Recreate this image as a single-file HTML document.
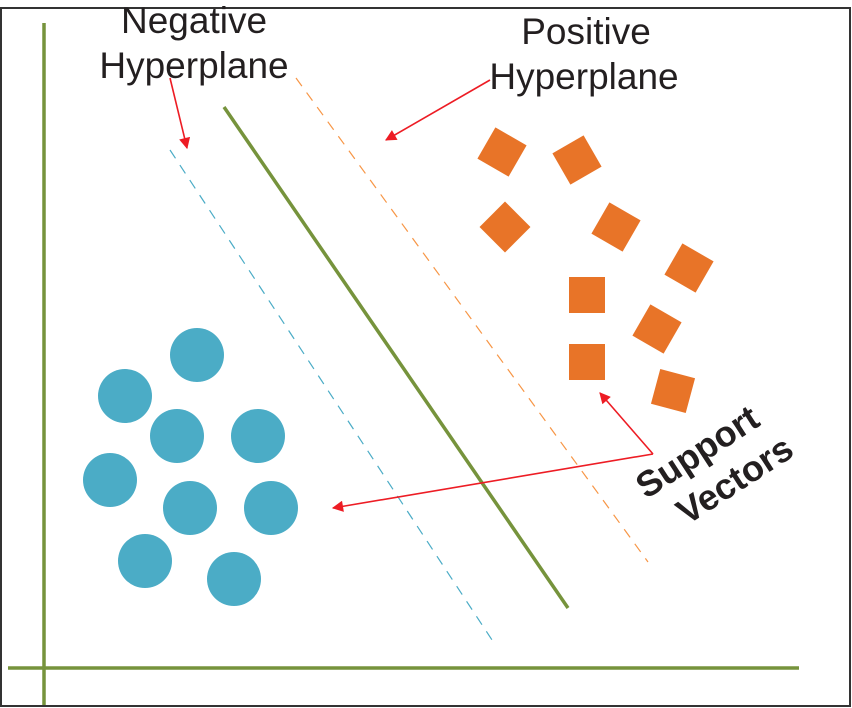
<!DOCTYPE html>
<html><head><style>
html,body{margin:0;padding:0;background:#fff}
svg{display:block}
text{font-family:"Liberation Sans",sans-serif;fill:#231f20}
</style></head><body>
<svg width="852" height="708" viewBox="0 0 852 708" xmlns="http://www.w3.org/2000/svg">
<defs>
<marker id="a" viewBox="0 0 10 10" refX="9" refY="5" markerWidth="8" markerHeight="7" orient="auto"><path d="M0,0L10,5L0,10z" fill="#ed1c24"/></marker>
</defs>
<rect x="1" y="8" width="849" height="698" fill="none" stroke="#333" stroke-width="2"/>
<line x1="44" y1="23" x2="44" y2="705" stroke="#76933c" stroke-width="3.5"/>
<line x1="8" y1="668" x2="799" y2="668" stroke="#76933c" stroke-width="3.5"/>
<line x1="224" y1="107" x2="568" y2="608" stroke="#76933c" stroke-width="3.5"/>
<line x1="170" y1="150" x2="494" y2="643" stroke="#4bacc6" stroke-width="1.2" stroke-dasharray="10,8"/>
<line x1="296" y1="78" x2="648" y2="562" stroke="#f79646" stroke-width="1.2" stroke-dasharray="10,8"/>
<g fill="#4bacc6">
<circle cx="197" cy="355" r="27"/><circle cx="125" cy="396" r="27"/><circle cx="177" cy="436" r="27"/><circle cx="258" cy="436" r="27"/><circle cx="110" cy="480" r="27"/><circle cx="190" cy="508" r="27"/><circle cx="271" cy="508" r="27"/><circle cx="145" cy="561" r="27"/><circle cx="234" cy="579" r="27"/>
</g>
<g fill="#e87428">
<rect x="-18" y="-18" width="36" height="36" transform="translate(502,152) rotate(30)"/>
<rect x="-18" y="-18" width="36" height="36" transform="translate(577,160) rotate(-30)"/>
<rect x="-18" y="-18" width="36" height="36" transform="translate(505,227) rotate(45)"/>
<rect x="-18" y="-18" width="36" height="36" transform="translate(616,227) rotate(30)"/>
<rect x="-18" y="-18" width="36" height="36" transform="translate(689,268) rotate(30)"/>
<rect x="569" y="277" width="36" height="36"/>
<rect x="-18" y="-18" width="36" height="36" transform="translate(657,329) rotate(30)"/>
<rect x="569" y="344" width="36" height="36"/>
<rect x="-18" y="-18" width="36" height="36" transform="translate(673,391) rotate(15)"/>
</g>
<g stroke="#ed1c24" stroke-width="1.6" fill="none">
<line x1="170" y1="78" x2="187" y2="148" marker-end="url(#a)"/>
<line x1="490" y1="80" x2="386" y2="140" marker-end="url(#a)"/>
<line x1="653" y1="454" x2="600" y2="393" marker-end="url(#a)"/>
<line x1="653" y1="454" x2="333" y2="508" marker-end="url(#a)"/>
</g>
<text x="194" y="33" font-size="37" text-anchor="middle">Negative</text>
<text x="194" y="78" font-size="37" text-anchor="middle">Hyperplane</text>
<text x="586" y="44" font-size="37" text-anchor="middle">Positive</text>
<text x="584" y="89" font-size="37" text-anchor="middle">Hyperplane</text>
<g transform="translate(704,462) rotate(-33)">
<text x="0" y="0" font-size="36" font-weight="bold" text-anchor="middle">Support</text>
<text x="16" y="44" font-size="36" font-weight="bold" text-anchor="middle">Vectors</text>
</g>
</svg>
</body></html>
